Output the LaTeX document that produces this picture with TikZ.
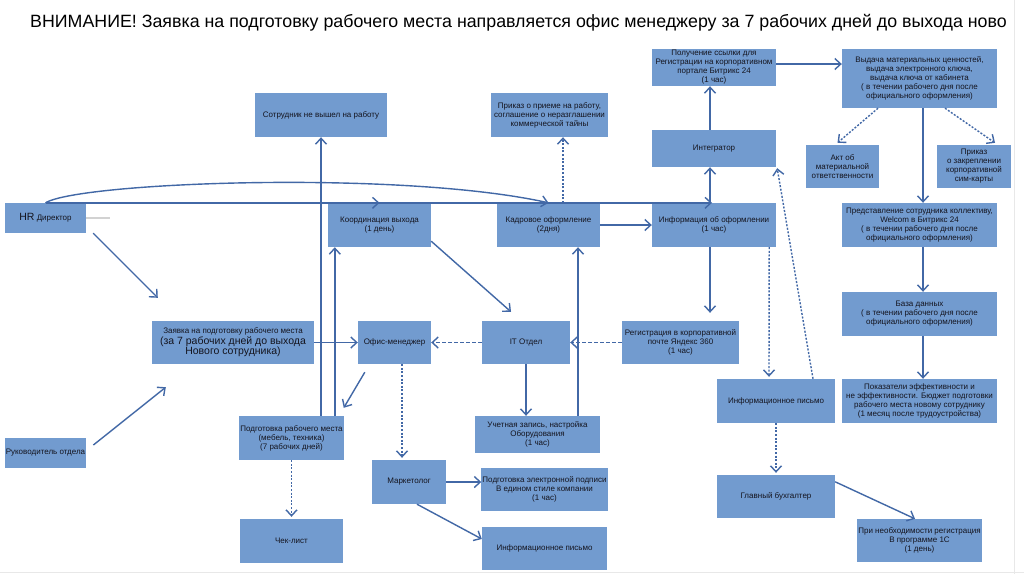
\documentclass[tikz,border=0pt]{standalone}
\usepackage{fontspec}
\setmainfont{Liberation Sans}
\usetikzlibrary{arrows.meta}
\definecolor{boxfill}{RGB}{114,155,207}
\definecolor{linecol}{RGB}{66,104,166}
\definecolor{txt}{RGB}{20,20,30}
\tikzset{
  box/.style={fill=boxfill, text=txt, align=center, inner sep=1pt,
    font=\fontsize{8}{9}\selectfont},
  arr/.style={draw=linecol, line width=1.4pt, -{Straight Barb[length=6pt,width=11pt]}},
  dotl/.style={dash pattern=on 2pt off 1.6pt},
  dashl/.style={dash pattern=on 3.5pt off 2.5pt},
}
\newcommand{\bx}[6]{\node[box, minimum width=#4pt, minimum height=#5pt] (#1) at (#2,#3) {#6};}
\begin{document}
\begin{tikzpicture}[x=1pt,y=-1pt]
\useasboundingbox (0,0) rectangle (1024,574);
\clip (0,0) rectangle (1024,574);
\fill[white] (0,0) rectangle (1024,574);
\draw[gray!18, line width=1pt] (1014,0) -- (1014,574);
\draw[gray!18, line width=1pt] (0,572) -- (1024,572);

\node[anchor=base west, inner sep=0pt, text=black, font=\fontsize{17.8}{20}\selectfont] (title) at (30,27)
  {ВНИМАНИЕ! Заявка на подготовку рабочего места направляется офис менеджеру за 7 рабочих дней до выхода ново};

% boxes
\bx{hr}{45.5}{218}{81}{30}{{\fontsize{10.5}{11}\selectfont HR} Директор}
\bx{nevyshel}{321}{115}{132}{44}{Сотрудник не вышел на работу}
\bx{koord}{379.5}{225}{103}{44}{Координация выхода\\(1 день)}
\bx{kadr}{548.5}{225}{103}{44}{Кадровое оформление\\(2дня)}
\bx{prikaz}{549.5}{115}{117}{44}{Приказ о приеме на работу,\\соглашение о неразглашении\\коммерческой тайны}
\bx{poluch}{714}{67.5}{124}{37}{Получение ссылки для\\Регистрации на корпоративном\\портале Битрикс 24\\(1 час)}
\bx{vydacha}{919.5}{78.5}{155}{59}{Выдача материальных ценностей,\\выдача электронного ключа,\\выдача ключа от кабинета\\( в течении рабочего дня после\\официального оформления)}
\bx{integr}{714}{148.5}{124}{37}{Интегратор}
\bx{akt}{842.5}{166.5}{73}{43}{Акт об\\материальной\\ответственности}
\bx{simkarta}{974}{166.5}{74}{43}{Приказ\\о закреплении\\корпоративной\\сим-карты}
\bx{info}{714}{225}{124}{44}{Информация об оформлении\\(1 час)}
\bx{predst}{919.5}{225}{155}{44}{Представление сотрудника коллективу,\\Welcom в Битрикс 24\\( в течении рабочего дня после\\официального оформления)}
\bx{baza}{919.5}{314}{155}{44}{База данных\\( в течении рабочего дня после\\официального оформления)}
\bx{pokaz}{919.5}{401}{155}{44}{Показатели эффективности и\\не эффективности. Бюджет подготовки\\рабочего места новому сотруднику\\(1 месяц после трудоустройства)}
\bx{pismoR}{776}{401}{118}{44}{Информационное письмо}
\bx{regpochta}{680.5}{342.5}{117}{43}{Регистрация в корпоративной\\почте Яндекс 360\\(1 час)}
\bx{it}{526}{342.5}{88}{43}{IT Отдел}
\bx{uchet}{537.5}{434.5}{125}{37}{Учетная запись, настройка\\Оборудования\\(1 час)}
\bx{zayavka}{233}{342.5}{162}{43}{Заявка на подготовку рабочего места\\{\fontsize{10.5}{12}\selectfont (за 7 рабочих дней до выхода}\\{\fontsize{10.5}{12}\selectfont Нового сотрудника)}}
\bx{ofis}{394.5}{342.5}{73}{43}{Офис-менеджер}
\bx{ruk}{45.5}{453}{81}{30}{Руководитель отдела}
\bx{podgot}{291.5}{438}{103}{44}{Подготовка рабочего места\\(мебель, техника)\\(7 рабочих дней)}
\bx{market}{409}{482}{74}{44}{Маркетолог}
\bx{podpis}{544.5}{489.5}{125}{43}{Подготовка электронной подписи\\В едином стиле компании\\(1 час)}
\bx{cheklist}{291.5}{541}{103}{44}{Чек-лист}
\bx{pismoB}{544.5}{548.5}{125}{43}{Информационное письмо}
\bx{glavbuh}{776}{496.5}{118}{43}{Главный бухгалтер}
\bx{pri1c}{919.5}{540.5}{125}{43}{При необходимости регистрация\\В программе 1С\\(1 день)}

% helper coordinates
\coordinate (k1) at ([xshift=7pt]koord.south west);
\coordinate (k2) at ([xshift=29.5pt]kadr.south);
\coordinate (k3) at ([xshift=13.5pt]prikaz.south);
\coordinate (p1) at ([yshift=3.5pt]poluch.east);
\coordinate (k4) at ([xshift=-4pt]info.south);

% connectors
\draw[gray!35, line width=1.5pt] (hr.east) -- ++(24,0);
\draw[arr] (hr.north) .. controls (80,182) and (400,170) .. (kadr.north);
\draw[arr] (hr.north) -- (koord.north);
\draw[arr] (hr.north) -- ([xshift=-2pt]info.north);
\draw[arr] (podgot.north -| nevyshel.south) -- (nevyshel.south);
\draw[arr] (podgot.north -| k1) -- (k1);
\draw[arr] ([yshift=6pt]koord.south east) -- ([xshift=-15pt,yshift=9pt]it.north);
\draw[arr] (uchet.north -| k2) -- (k2);
\draw[arr] (kadr.east) -- (info.west);
\draw[arr,dotl] (kadr.north -| k3) -- (k3);
\draw[arr] ([xshift=-4pt]info.north) -- ([xshift=-4pt]integr.south);
\draw[arr] ([xshift=-4pt]integr.north) -- ([xshift=-4pt]poluch.south);
\draw[arr] (p1) -- (p1 -| vydacha.west);
\draw[arr,dotl] ([xshift=-41.5pt]vydacha.south) -- ([xshift=-5pt,yshift=2pt]akt.north);
\draw[arr,dotl] ([xshift=25.5pt]vydacha.south) -- ([xshift=21pt,yshift=2pt]simkarta.north);
\draw[arr] ([xshift=3.5pt]vydacha.south) -- ([xshift=3.5pt]predst.north);
\draw[arr] ([xshift=3.5pt]predst.south) -- ([xshift=3.5pt]baza.north);
\draw[arr] ([xshift=3.5pt]baza.south) -- ([xshift=3.5pt]pokaz.north);
\draw[arr] (k4) -- ([yshift=8pt]regpochta.north -| k4);
\draw[arr,dotl] ([xshift=-7pt]info.south east) -- ([xshift=-7pt,yshift=2pt]pismoR.north);
\draw[arr,dotl] ([xshift=37pt]pismoR.north) -- ([xshift=1pt,yshift=-1pt]integr.south east);
\draw[arr,dashl] (regpochta.west) -- (it.east);
\draw[arr,dashl] (it.west) -- (ofis.east);
\draw[arr] (zayavka.east) -- (ofis.west);
\draw[arr] (it.south) -- (it.south |- uchet.north);
\draw[arr] ([xshift=7pt]hr.south east) -- ([xshift=6pt,yshift=23pt]zayavka.north west);
\draw[arr] ([xshift=7pt,yshift=8pt]ruk.east) -- ([xshift=14pt,yshift=-23pt]zayavka.south west);
\draw[arr] ([xshift=7pt,yshift=-8pt]ofis.south west) -- ([yshift=8pt]podgot.north east);
\draw[arr,dotl] ([xshift=7.5pt]ofis.south) -- ([xshift=-7pt,yshift=2pt]market.north);
\draw[arr,dotl] (podgot.south) -- ([yshift=2pt]cheklist.north);
\draw[arr] (market.east) -- (market.east -| podpis.west);
\draw[arr] ([xshift=8pt]market.south) -- ([yshift=9.5pt]pismoB.west);
\draw[arr,dotl] (pismoR.south) -- ([yshift=2pt]glavbuh.north);
\draw[arr] ([yshift=-7pt]glavbuh.north east) -- ([xshift=-4.5pt]pri1c.north);
\end{tikzpicture}
\end{document}
